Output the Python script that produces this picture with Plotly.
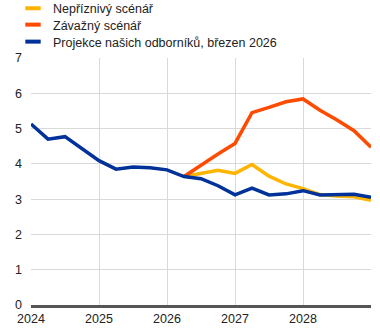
import plotly.graph_objects as go

quarters = [2024 + i * 0.25 for i in range(21)]
tick_vals = [2024, 2025, 2026, 2027, 2028, 2029]
tick_text = ["2024", "2025", "2026", "2027", "2028", ""]

names = ["Nepříznivý scénář", "Závažný scénář", "Projekce našich odborníků, březen 2026"]
colors = ["#FFB400", "#FF4B00", "#003299"]

baseline = [5.13, 4.70, 4.77, 4.42, 4.09, 3.85, 3.91, 3.89, 3.83, 3.64, 3.58,
            3.38, 3.12, 3.31, 3.12, 3.15, 3.24, 3.12, 3.14, 3.14, 3.05]
adverse = [None] * 9 + [3.64, 3.74, 3.82, 3.73, 3.98, 3.65, 3.43, 3.30, 3.13,
                        3.09, 3.07, 2.97]
severe = [None] * 9 + [3.64, 3.97, 4.28, 4.58, 5.45, 5.60, 5.76, 5.84, 5.52,
                       5.24, 4.94, 4.47]

series = [adverse, severe, baseline]
legend_ids = ["legend", "legend2", "legend3"]
legend_centers_px = [8.5, 25, 42]

W, H = 380, 332
fig = go.Figure()
for vals, col in zip(series, colors):
    fig.add_trace(go.Scatter(x=quarters, y=vals, mode="lines",
                             line=dict(color=col, width=3.5),
                             showlegend=False, hoverinfo="skip"))
for name, col, lid in zip(names, colors, legend_ids):
    fig.add_trace(go.Scatter(x=[None], y=[None], mode="markers", name=name,
                             legend=lid,
                             marker=dict(symbol="line-ew", size=11,
                                         line=dict(color=col, width=4))))

font = "Liberation Sans, Arial, sans-serif"
legend_common = dict(xref="container", yref="container", xanchor="left",
                     yanchor="middle", x=13 / W,
                     font=dict(size=12.5, color="#222222"),
                     bgcolor="rgba(0,0,0,0)")
legends = {}
for lid, cy in zip(legend_ids, legend_centers_px):
    legends[lid] = dict(legend_common, y=1 - cy / H)

fig.update_layout(
    width=W, height=H,
    margin=dict(l=31, r=9, t=58, b=27, autoexpand=False),
    paper_bgcolor="white", plot_bgcolor="white",
    font=dict(family=font, size=12, color="#222222"),
    xaxis=dict(range=[2024, 2029], tickvals=tick_vals, ticktext=tick_text,
               showgrid=True, gridcolor="#d9d9d9", gridwidth=1,
               zeroline=False, showline=True, linecolor="#555555",
               linewidth=2.5, ticks="", tickfont=dict(size=12.5)),
    yaxis=dict(range=[0, 7], dtick=1, showgrid=True, gridcolor="#d9d9d9",
               gridwidth=1, zeroline=False, showline=False, ticks="",
               ticklabelstandoff=8, tickfont=dict(size=12.5)),
    **legends,
)

fig.write_html("out.html")
